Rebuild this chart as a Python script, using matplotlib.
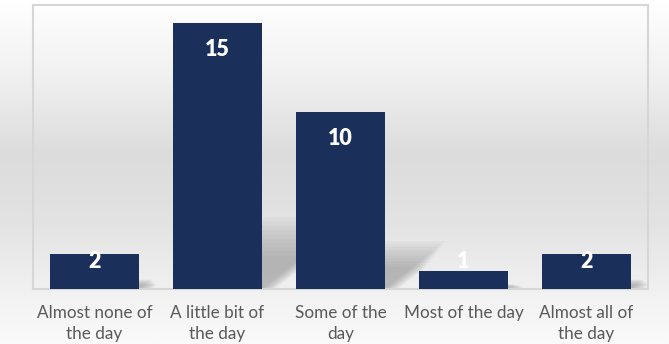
import numpy as np
import matplotlib
matplotlib.use("Agg")
import matplotlib.pyplot as plt
from matplotlib.colors import LinearSegmentedColormap

categories = ["Almost none of\nthe day", "A little bit of\nthe day", "Some of the\nday",
              "Most of the day", "Almost all of\nthe day"]
values = [2, 15, 10, 1, 2]

W, H, DPI = 669, 344, 100
fig = plt.figure(figsize=(W / DPI, H / DPI), dpi=DPI)

# background gradient
bg = fig.add_axes([0, 0, 1, 1], zorder=-10)
cmap = LinearSegmentedColormap.from_list(
    "bg", [(0.0, "#fafafa"), (0.12, "#f3f3f3"), (0.35, "#e3e3e3"),
           (0.55, "#dcdcdc"), (0.8, "#f2f2f2"), (1.0, "#ffffff")])
grad = np.linspace(0, 1, 256).reshape(-1, 1)
bg.imshow(grad, aspect="auto", cmap=cmap, extent=[0, 1, 0, 1], origin="lower")
bg.set_axis_off()

ax = fig.add_axes([33 / W, 1 - 289 / H, 615 / W, 284 / H])
ax.set_facecolor("none")
x = np.arange(len(values))
bw = 0.716

# soft perspective shadows
n = 10
for xi, v in zip(x, values):
    h = 0.27 * v
    s = 0.05 * v
    for k in range(n):
        sh = 1 - 0.06 * k
        xl, xr = xi - bw / 2, xi + bw / 2 + 0.012 * k
        poly_x = [xl, xr, xr + s * sh, xl + s * sh]
        poly_y = [0, 0, h * sh, h * sh]
        ax.fill(poly_x, poly_y, color="#6e6e6e", alpha=0.05, lw=0, zorder=1)

ax.bar(x, values, width=bw, color="#1b2f5b", zorder=3)

for xi, v in zip(x, values):
    y = max(v - 1.52, 1.55)
    ax.text(xi, y, str(v), ha="center", va="center", color="white",
            fontsize=15.5, fontweight="heavy", family="Lato", zorder=4)

ax.set_xlim(-0.5, 4.5)
ax.set_ylim(0, 16)
ax.set_yticks([])
ax.set_xticks(x)
ax.set_xticklabels(categories, fontsize=12.3, color="#595959", family="Lato",
                   linespacing=1.38)
ax.tick_params(axis="x", length=0, pad=11.5)
for sp in ax.spines.values():
    sp.set_color("#d6d6d6")
    sp.set_linewidth(1.5)

fig.savefig("out.png", dpi=DPI)
